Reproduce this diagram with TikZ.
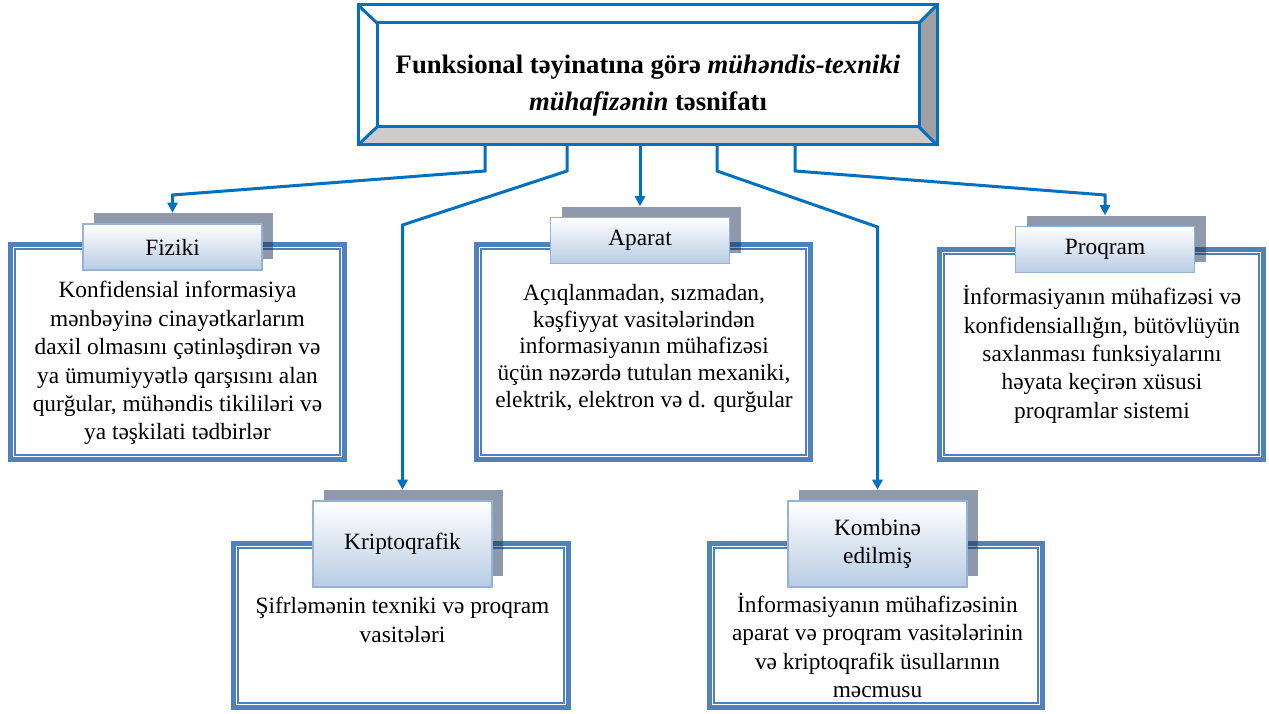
\documentclass[tikz,border=0pt]{standalone}
\usepackage{fontspec}
\setmainfont{Liberation Serif}
\usepackage{tikz}
\usetikzlibrary{arrows.meta,positioning}
\definecolor{frameblue}{RGB}{0,112,192}
\definecolor{boxblue}{RGB}{79,129,189}
\definecolor{tagline}{RGB}{149,179,215}
\definecolor{tagfill}{RGB}{184,204,228}
\definecolor{shadowblue}{RGB}{29,53,87}
\definecolor{bevdark}{RGB}{160,160,160}
\definecolor{bevlight}{RGB}{204,204,204}
\newdimen\pxu \pxu=0.75pt
\newcommand\bodyfont{\fontsize{17.5}{21.3}\selectfont}
\newcommand\titlefont{\fontsize{20}{27.75}\selectfont\bfseries}

\begin{document}
\begin{tikzpicture}[x=0.75pt, y=-0.75pt,
    bevnode/.style 2 args={rectangle, minimum width=#1\pxu, minimum height=#2\pxu,
                  inner sep=0pt, outer sep=0pt},
    bevline/.style={draw=frameblue, line width=3\pxu},
    bodybox/.style 2 args={rectangle, draw=boxblue, line width=4.5\pxu, fill=white,
                  minimum width=#1\pxu, minimum height=#2\pxu, inner sep=0pt, outer sep=0pt},
    tagshadow/.style={rectangle, fill=shadowblue, fill opacity=0.5,
                  minimum width=179\pxu, minimum height=#1\pxu, inner sep=0pt},
    tagshadow/.default=46,
    tagbox/.style={rectangle, draw=tagline, line width=1.2\pxu, top color=white,
                  bottom color=tagfill, minimum width=179\pxu, minimum height=#1\pxu,
                  align=center, font=\bodyfont, inner sep=0pt},
    tagbox/.default=46,
    bodytxt/.style={align=center, font=\bodyfont, inner sep=0pt},
    conn/.style={draw=frameblue, line width=2.25pt, -{Triangle[length=7.5pt, width=7.5pt]}},
  ]
  \useasboundingbox (0,0) rectangle (1269,713);

  % title with bevelled frame
  \node[bevnode={579}{140}] (frame) at (647.5,75) {};
  \node[bevnode={542}{104}] (title) at (648,75) {};
  \fill[bevdark] (frame.north east) -- (frame.south east) -- (title.south east) -- (title.north east) -- cycle;
  \fill[bevlight] (frame.south west) -- (frame.south east) -- (title.south east) -- (title.south west) -- cycle;
  \draw[bevline] (frame.north west) rectangle (frame.south east);
  \draw[bevline] (title.north west) rectangle (title.south east);
  \foreach \c in {north west,north east,south west,south east}
    \draw[bevline] (frame.\c) -- (title.\c);
  \node[align=center, font=\titlefont, inner sep=0pt] (titletxt) at ([yshift=-8pt]title.center)
    {Funksional təyinatına görə \textit{mühəndis-texniki}\\
     \textit{mühafizənin} təsnifatı};

  % class boxes
  \node[bodybox={334}{215}] (fizb) at (177.5,352) {};
  \node[bodybox={334}{215}] (apab) at (643.5,352) {};
  \node[bodybox={324}{210}] (prob) at (1101.5,354.5) {};
  \node[bodybox={335}{164}] (krib) at (401,625.5) {};
  \node[bodybox={333}{164}] (komb) at (876,625.5) {};
  \foreach \b in {fizb,apab,prob,krib,komb}
    \draw[boxblue, line width=1.5\pxu] ([shift={(4.6,4.6)}]\b.north west)
      rectangle ([shift={(-4.6,-4.6)}]\b.south east);

  % tags
  \node[tagshadow] (fizs) at (183.5,236) {};
  \node[tagshadow] (apas) at (651,229.5) {};
  \node[tagshadow] (pros) at (1116,238.5) {};
  \node[tagshadow=86] (kris) at (413.5,533) {};
  \node[tagshadow=86] (koms) at (888.5,533) {};

  \node[tagbox] (fizl) at ([shift={(-11,11)}]fizs) {Fiziki};
  \node[tagbox] (apal) at ([shift={(-11,11)}]apas) {Aparat};
  \node[tagbox] (prol) at ([shift={(-11,11)}]pros) {Proqram};
  \node[tagbox=86] (kril) at ([shift={(-11,11)}]kris) {Kriptoqrafik};
  \node[tagbox=86] (koml) at ([shift={(-11,11)}]koms) {Kombinə\\edilmiş};

  % descriptions
  \node[bodytxt, below=8pt of fizl, xshift=5\pxu] (fizt)
    {Konfidensial informasiya\\ mənbəyinə cinayətkarlarım\\ daxil olmasını çətinləşdirən və\\
     ya ümumiyyətlə qarşısını alan\\ qurğular, mühəndis tikililəri və\\ ya təşkilati tədbirlər};
  \node[bodytxt, below=15pt of apal, xshift=4\pxu, font=\fontsize{17.5}{20}\selectfont] (apat)
    {Açıqlanmadan, sızmadan,\\ kəşfiyyat vasitələrindən\\ informasiyanın mühafizəsi\\
     üçün nəzərdə tutulan mexaniki,\\ elektrik, elektron və d. qurğular};
  \node[bodytxt, below=9pt of prol, xshift=-3\pxu] (prot)
    {İnformasiyanın mühafizəsi və\\ konfidensiallığın, bütövlüyün\\ saxlanması funksiyalarını\\
     həyata keçirən xüsusi\\ proqramlar sistemi};
  \node[bodytxt, below=7pt of kril] (krit)
    {Şifrləmənin texniki və proqram\\ vasitələri};
  \node[bodytxt, below=4pt of koml] (komt)
    {İnformasiyanın mühafizəsinin\\ aparat və proqram vasitələrinin\\ və kriptoqrafik üsullarının\\ məcmusu};

  % connectors
  \draw[conn] (frame.south -| 485,0) -- (485,171) -- (fizl |- 0,195) -- (fizl |- fizs.north);
  \draw[conn] (frame.south -| 567,0) -- (567,171) -- (kril |- 0,225) -- (kril |- kris.north);
  \draw[conn] (frame.south -| apal) -- (apal |- apas.north);
  \draw[conn] (frame.south -| 717,0) -- (717,171) -- (koml |- 0,227) -- (koml |- koms.north);
  \draw[conn] (frame.south -| 795,0) -- (795,171) -- (prol |- 0,195) -- (prol |- pros.north);
\end{tikzpicture}
\end{document}
